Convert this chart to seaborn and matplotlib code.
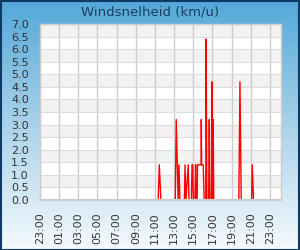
import numpy as np
import pandas as pd
import matplotlib
matplotlib.use("Agg")
import matplotlib.pyplot as plt
from matplotlib.colors import LinearSegmentedColormap
from matplotlib.patches import Rectangle
import seaborn as sns

# --- Data ---
TITLE = "Windsnelheid (km/u)"
times = ["00:00", "11:20", "11:27", "11:37",
         "13:07", "13:13", "13:25", "13:30", "13:36",
         "14:04", "14:08", "14:14", "14:28", "14:33",
         "14:48", "14:52", "14:56", "15:00", "15:10", "15:14", "15:18",
         "15:24", "15:26", "15:37", "15:49", "15:50", "15:52", "16:02", "16:08",
         "16:18", "16:20", "16:25", "16:36", "16:40", "16:44",
         "16:54", "16:58", "17:02", "17:04", "17:08",
         "19:45", "19:52", "20:00", "21:05", "21:09", "21:17", "23:59"]
wind = [0.0, 0.0, 1.4, 0.0,
        0.0, 3.2, 0.0, 1.4, 0.0,
        0.0, 1.4, 0.0, 1.4, 0.0,
        0.0, 1.4, 1.4, 0.0, 0.0, 1.4, 0.0,
        0.0, 1.4, 1.4, 1.4, 3.2, 1.4, 1.4, 0.0,
        0.0, 6.4, 0.0, 0.0, 3.2, 0.0,
        0.0, 4.7, 0.0, 3.2, 0.0,
        0.0, 4.7, 0.0, 0.0, 1.4, 0.0, 0.0]
tick_labels = ["23:00", "01:00", "03:00", "05:00", "07:00", "09:00", "11:00",
               "13:00", "15:00", "17:00", "19:00", "21:00", "23:00"]

df = pd.DataFrame({"time": times, "wind": wind})
hm = df["time"].str.split(":", expand=True).astype(int)
df["hour"] = hm[0] + hm[1] / 60.0

sns.set_style("white")
fig = plt.figure(figsize=(3.0, 2.5), dpi=100)

# gradient background
bg = fig.add_axes([0, 0, 1, 1], zorder=-10)
cmap = LinearSegmentedColormap.from_list("bg", ["#52a8d9", "#a9d2ea", "#f5fafd"])
grad = np.linspace(0, 1, 256).reshape(-1, 1)
bg.imshow(grad, aspect="auto", cmap=cmap, extent=[0, 1, 0, 1])
bg.set_axis_off()
fig.patches.append(Rectangle((0.002, 0.002), 0.996, 0.996, transform=fig.transFigure,
                             fill=False, edgecolor="#0d3b66", linewidth=1.5))

ax = fig.add_axes([40 / 300, 1 - 200 / 250, 241 / 300, 176 / 250])
ax.set_facecolor("white")

# alternating bands
for i in range(14):
    lo = i * 0.5
    if i % 2 == 1:
        ax.axhspan(lo, lo + 0.5, color="#f2f2f2", zorder=0, linewidth=0)

sns.lineplot(data=df, x="hour", y="wind", ax=ax, color="#ff0000",
             linewidth=1.0, zorder=3, estimator=None, sort=False)

ax.set_xlim(-1, 24.15)
ax.set_ylim(0, 7.0)
ax.set_xticks(np.arange(-1, 24, 2))
ax.set_xticklabels(tick_labels, rotation=90)
ax.set_yticks(np.arange(0, 7.01, 0.5))
ax.set_yticklabels([f"{v:.1f}" for v in np.arange(0, 7.01, 0.5)])
ax.tick_params(axis="both", length=0, labelsize=8, colors="#333333")
ax.tick_params(axis="y", pad=8)
ax.tick_params(axis="x", pad=9)
ax.grid(True, axis="x", color="#cccccc", linewidth=1.0, zorder=1)
ax.grid(True, axis="y", color="#dddddd", linewidth=0.8, zorder=1)
ax.set_axisbelow(True)
ax.set_xlabel("")
ax.set_ylabel("")
for s in ax.spines.values():
    s.set_color("#cccccc")
    s.set_linewidth(1.0)
    s.set_zorder(5)
ax.spines["bottom"].set_linewidth(1.6)

fig.text(0.5, 1 - 12 / 250, TITLE, ha="center", va="center",
         fontsize=9.5, color="#1b3f5e")

fig.savefig("out.png", dpi=100)
